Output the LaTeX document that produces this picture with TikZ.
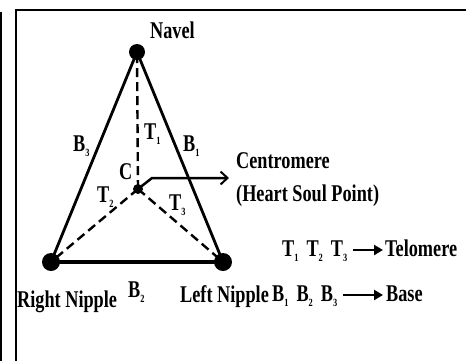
\documentclass[tikz,border=0pt]{standalone}
\usepackage{fontspec}
\setmainfont{Liberation Serif}[FakeStretch=0.76]
\usetikzlibrary{arrows.meta,calc}
\newcommand{\lo}[1]{\raisebox{-5.5pt}{\fontsize{11}{11}\selectfont #1}}
\begin{document}
\begin{tikzpicture}[x=1pt,y=-1pt,
  lbl/.style={font=\fontsize{24}{25}\selectfont\bfseries, inner sep=0pt, anchor=base west},
  dotbig/.style={circle, fill=black, inner sep=0pt, minimum size=#1},
  side/.style={line width=2.8pt},
  dash line/.style={line width=2.4pt, dash pattern=on 9pt off 5pt},
  carrow/.style={line width=2.5pt, -{Straight Barb[length=7pt,width=13pt,line width=2pt]}},
  legarrow/.style={line width=2.6pt, -{Triangle[length=9pt,width=10pt]}}]
\useasboundingbox (0,0) rectangle (466,360);
% frames
\draw[line width=2.3pt] (1.2,12) -- (1.2,362);
\draw[line width=2pt] (16,362) -- (16,10.3) -- (468,10.3);
% points
\node[dotbig=16pt] (navel) at (137,52) {};
\node[dotbig=18pt] (rn) at (51,262) {};
\node[dotbig=18pt] (ln) at (223,262) {};
\node[dotbig=10pt] (cdot) at (138,189) {};
% triangle
\draw[side] (navel.center) -- (rn.center);
\draw[side] (navel.center) -- (ln.center);
\draw[line width=3.5pt] (rn.center) -- (ln.center);
% telomere dashed
\draw[dash line] (cdot.center) -- (navel.center);
\draw[dash line] (cdot.center) -- (rn.center);
\draw[dash line] (cdot.center) -- (ln.center);
% centromere arrow
\coordinate (cbend) at (152,178);
\coordinate (cend) at (229,178);
\draw[carrow] (cdot.center) -- (cbend) -- (cend);
% labels
\node[lbl] (navlbl) at (150,38) {Navel};
\node[lbl] (b3) at (73,151) {B\lo{3}};
\node[lbl] (b1) at (183,151) {B\lo{1}};
\node[lbl] (t1) at (144,139) {T\lo{1}};
\node[lbl] (clbl) at (119,179) {C};
\node[lbl] (t2) at (97,202) {T\lo{2}};
\node[lbl] (t3) at (169,210) {T\lo{3}};
\node[lbl] (b2) at (128,297) {B\lo{2}};
\node[lbl] (rnlbl) at (17,307) {Right Nipple};
\node[lbl] (lnlbl) at (180,302) {Left Nipple};
\node[lbl] (centro) at (236,168) {Centromere};
\node[lbl] (heart) at (236,201) {(Heart Soul Point)};
% legend
\node[lbl] (tlist) at (282,256) {T\lo{1}\,\,T\lo{2}\,\,T\lo{3}};
\node[lbl] (telo) at (385,256) {Telomere};
\node[lbl] (blist) at (272,301) {B\lo{1}\,\,B\lo{2}\,\,B\lo{3}};
\node[lbl] (base) at (386,301) {Base};
\draw[legarrow] ($(tlist.base east)+(6,-6)$) -- ($(telo.base west)+(-2,-6)$);
\draw[legarrow] ($(blist.base east)+(6,-6)$) -- ($(base.base west)+(-3,-6)$);
\end{tikzpicture}
\end{document}
